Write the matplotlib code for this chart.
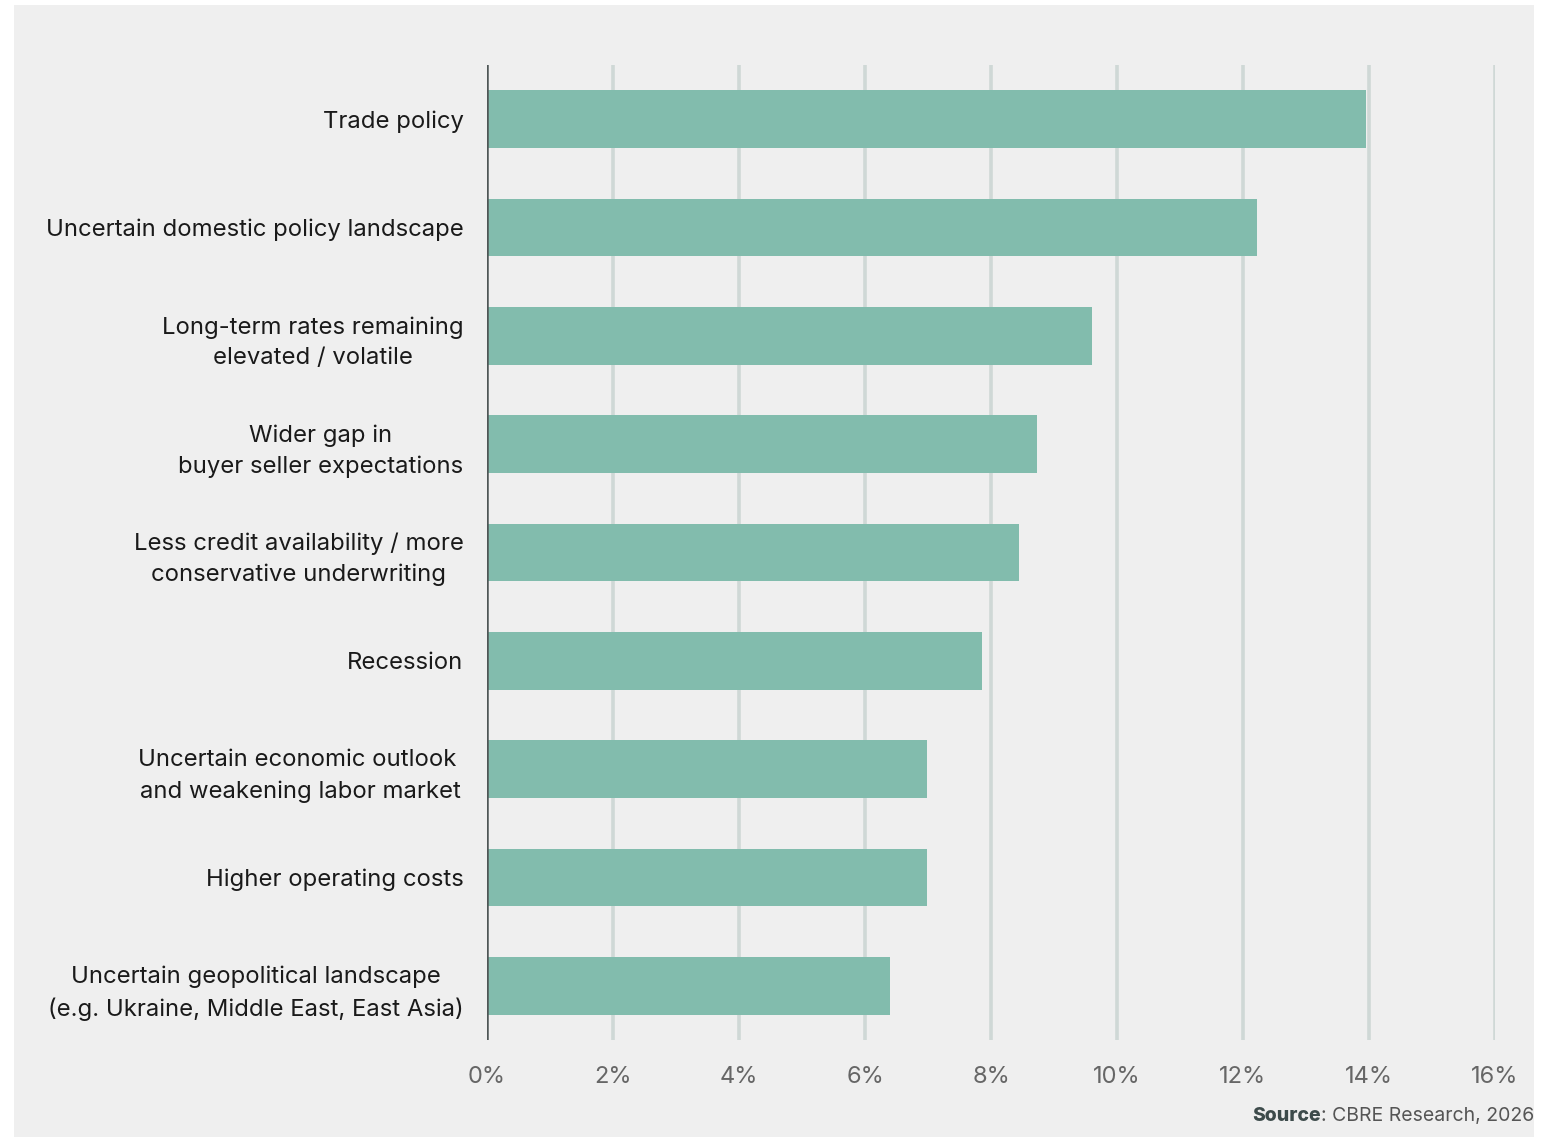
import matplotlib
matplotlib.use("Agg")
import matplotlib.pyplot as plt
from matplotlib.patches import Rectangle

categories = [
    "Trade policy",
    "Uncertain domestic policy landscape",
    "Long-term rates remaining\nelevated / volatile",
    "Wider gap in\nbuyer seller expectations",
    "Less credit availability / more\nconservative underwriting",
    "Recession",
    "Uncertain economic outlook \nand weakening labor market",
    "Higher operating costs",
    "Uncertain geopolitical landscape\n(e.g. Ukraine, Middle East, East Asia)",
]
values = [13.95, 12.22, 9.6, 8.73, 8.44, 7.86, 6.98, 6.98, 6.40]
xticks = [0, 2, 4, 6, 8, 10, 12, 14, 16]
xticklabels = ["0%", "2%", "4%", "6%", "8%", "10%", "12%", "14%", "16%"]

plt.rcParams['font.family'] = ['Inter', 'DejaVu Sans']

W, H = 1547, 1137
fig = plt.figure(figsize=(W / 100, H / 100), dpi=100, facecolor="white")
bg = "#efefef"
fig.patches.append(Rectangle((14 / W, 0), (1534 - 14) / W, (1137 - 5) / H,
                             transform=fig.transFigure, facecolor=bg,
                             edgecolor="none", zorder=-10))

ax = fig.add_axes([487 / W, 1 - 1040 / H, (1495 - 487) / W, (1040 - 65) / H])
ax.patch.set_alpha(0)

ypos = list(range(len(categories)))
ax.barh(ypos, values, height=0.535, color="#82bcad", zorder=3)
ax.set_ylim(len(categories) - 0.5, -0.5)
ax.set_xlim(0, 16)

for x in xticks[1:]:
    ax.axvline(x, color="#cfd8d6", lw=2.6, zorder=1)
ax.axvline(0, color="#4f5656", lw=1.8, zorder=4)

for s in ax.spines.values():
    s.set_visible(False)

ax.set_xticks(xticks)
ax.set_xticklabels(xticklabels, fontsize=17, color="#666666")
ax.set_yticks(ypos)
ax.set_yticklabels(categories, fontsize=17.2, color="#1a1a1a",
                   multialignment="center", linespacing=1.5)
ax.tick_params(axis="x", length=0, pad=19)
ax.tick_params(axis="y", length=0, pad=17)

t2 = fig.text(1534 / W, 1 - 1116 / H, ": CBRE Research, 2026", fontsize=14,
              color="#555555", ha="right", va="center")
fig.canvas.draw()
bb = t2.get_window_extent()
fig.text(bb.x0 / W, 1 - 1116 / H, "Source", fontsize=14, fontweight="heavy",
         color="#3d4b4b", ha="right", va="center")

fig.savefig("out.png", dpi=100, facecolor="white")
